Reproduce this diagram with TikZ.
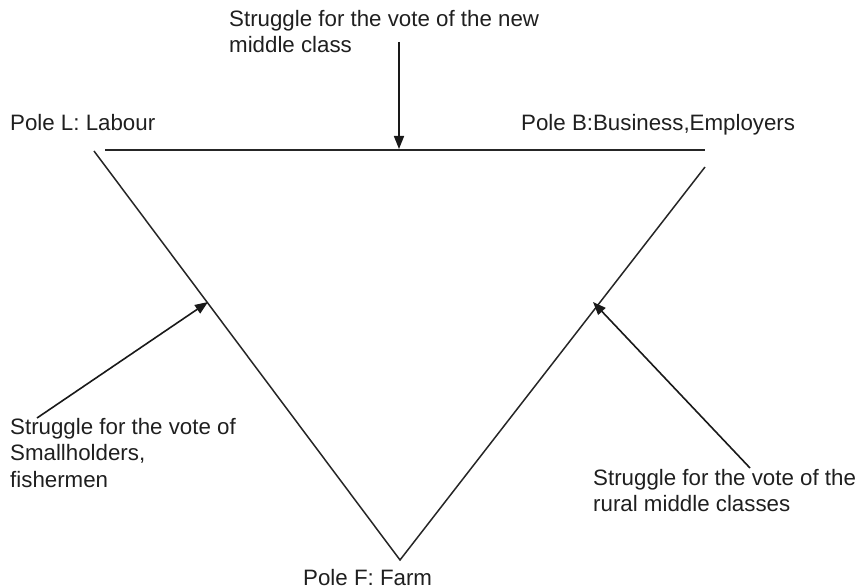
\documentclass[tikz,border=0pt]{standalone}
\usepackage{fontspec}
\setmainfont{Liberation Sans}
\usetikzlibrary{arrows.meta}
\begin{document}
\begin{tikzpicture}[x=1pt,y=-1pt,
  lbl/.style={inner sep=0pt, align=left, font=\fontsize{22.3}{26.5}\selectfont, text=black!88},
  edge/.style={line width=1.5pt, black!85},
  pointer/.style={line width=1.6pt, black!90, -{Triangle[length=13pt,width=10pt]}}]
\useasboundingbox (0,0) rectangle (857,588);
% triangle corners
\coordinate (TL1) at (105,150);
\coordinate (TR1) at (705,150);
\coordinate (LT) at (94,151);
\coordinate (RT) at (705,167);
\coordinate (F) at (400,560);
\draw[edge] (TL1) -- (TR1);
\draw[edge] (LT) -- (F) -- (RT);
% labels
\node[lbl, anchor=north west] (top) at (229,10) {Struggle for the vote of the new\\middle class};
\node[lbl, anchor=base west] (poleL) at (10,131) {Pole L: Labour};
\node[lbl, anchor=base west] (poleB) at (521,131) {Pole B:Business,Employers};
\node[lbl, anchor=north west] (small) at (10,418) {Struggle for the vote of\\Smallholders,\\fishermen};
\node[lbl, anchor=north west] (rural) at (593,469) {Struggle for the vote of the\\rural middle classes};
\node[lbl, anchor=base west] (poleF) at (303,585) {Pole F: Farm};
% pointers
\coordinate (a1s) at (399,42);
\coordinate (a1e) at (399,149);
\coordinate (a2s) at (37,418);
\coordinate (a2e) at (208,302);
\coordinate (a3s) at (750,468);
\coordinate (a3e) at (593,302);
\draw[pointer] (a1s) -- (a1e);
\draw[pointer] (a2s) -- (a2e);
\draw[pointer] (a3s) -- (a3e);
\end{tikzpicture}
\end{document}
